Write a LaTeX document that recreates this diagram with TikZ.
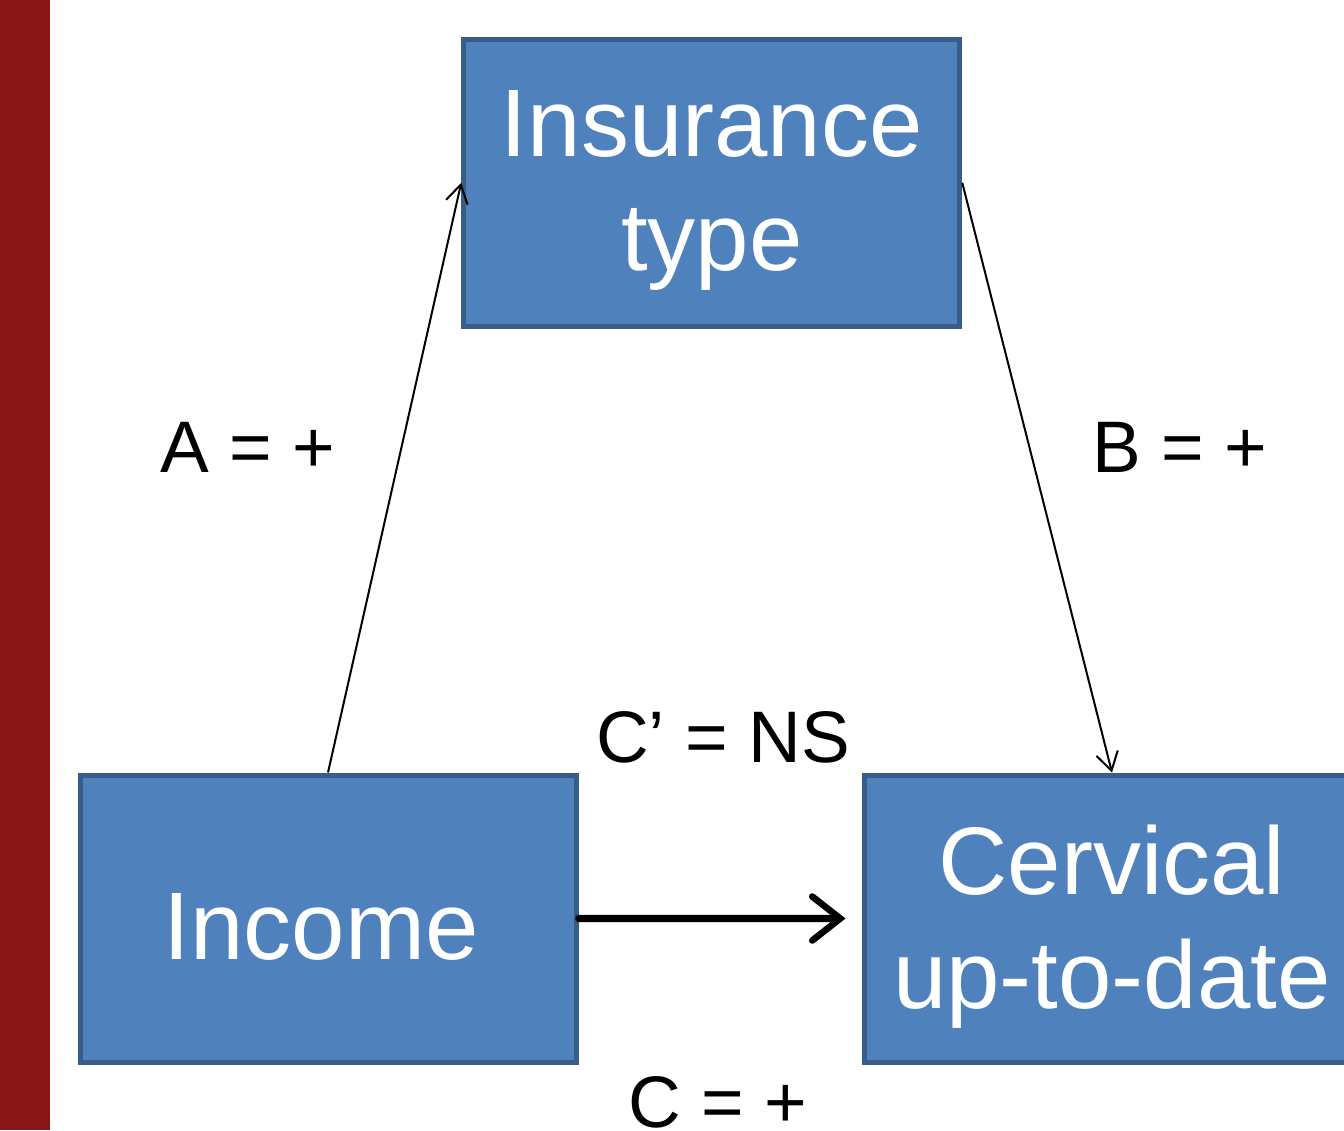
\documentclass[tikz,border=0pt]{standalone}
\usepackage{fontspec}
\setmainfont{Liberation Sans}
\usetikzlibrary{arrows.meta}
\definecolor{boxfill}{HTML}{4F81BD}
\definecolor{boxedge}{HTML}{385D8A}
\definecolor{barred}{HTML}{8B1618}
\tikzset{
  varbox/.style={draw=boxedge, fill=boxfill, line width=5pt, inner sep=0pt,
    minimum width=496pt, minimum height=287pt},
  boxtext/.style={text=white, align=center, inner sep=0pt,
    font=\fontsize{96}{114}\selectfont},
  lbl/.style={anchor=base, inner sep=0pt, font=\fontsize{73}{80}\selectfont},
  thinarrow/.style={line width=2pt, -{Straight Barb[length=18pt,width=22pt,line width=2pt]}},
  thickarrow/.style={line width=6.5pt, line cap=round, -{Straight Barb[length=28pt,width=44pt,line width=6.5pt,line cap=round]}}
}
\begin{document}
\begin{tikzpicture}[x=1pt,y=-1pt]
\useasboundingbox (0,0) rectangle (1344,1130);
\clip (0,0) rectangle (1344,1130);
\fill[barred] (0,0) rectangle (50,1130);
\node[varbox] (ins) at (711.75,182.75) {};
\node[varbox] (inc) at (328,918.5) {};
\node[varbox] (cer) at (1112,918.5) {};
\node[boxtext] (inst) at ([yshift=-8pt]ins.center) {Insurance\\type};
\node[boxtext] (inct) at ([xshift=-7pt,yshift=-8pt]inc.center) {Income};
\node[boxtext] (cert) at ([yshift=-8pt]cer.center) {Cervical\\up-to-date};
\draw[thinarrow] (inc.north) -- (ins.west);
\draw[thinarrow] (ins.east) -- (cer.north);
\begin{scope}[opacity=0.12, black]
\draw[thickarrow, shift={(3,5)}] (inc.east) -- ([xshift=-16pt]cer.west);
\draw[thickarrow, shift={(4,7)}, line width=9pt] (inc.east) -- ([xshift=-16pt]cer.west);
\end{scope}
\draw[thickarrow] (inc.east) -- ([xshift=-16pt]cer.west);
\node[lbl] (la) at (248,472) {A = +};
\node[lbl] (lb) at (1180,472) {B = +};
\node[lbl] (lcp) at (723,762) {C’ = NS};
\node[lbl] (lc) at (718,1127) {C = +};
\end{tikzpicture}
\end{document}
